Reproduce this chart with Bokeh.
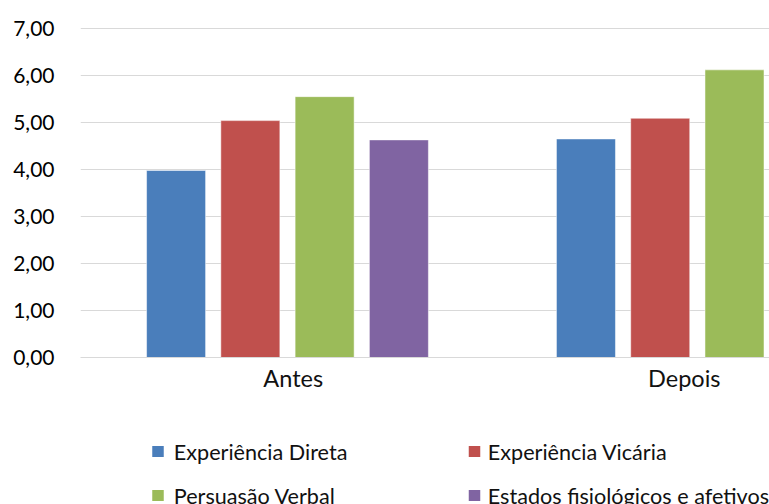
import math

from bokeh.core.properties import value
from bokeh.embed import file_html
from bokeh.layouts import column
from bokeh.models import ColumnDataSource, FixedTicker, Range1d
from bokeh.plotting import figure
from bokeh.resources import INLINE

# ---- data ---------------------------------------------------------------
categories = ["Antes", "Depois"]

experiencia_direta = [3.98, 4.65]
experiencia_vicaria = [5.04, 5.09]
persuasao_verbal = [5.55, 6.12]
estados_fisiologicos = [4.63, math.nan]

series_names = [
    "Experiência Direta",
    "Experiência Vicária",
    "Persuasão Verbal",
    "Estados fisiológicos e afetivos",
]
series_values = [
    experiencia_direta,
    experiencia_vicaria,
    persuasao_verbal,
    estados_fisiologicos,
]

y_ticks = [0, 1, 2, 3, 4, 5, 6, 7]
y_tick_labels = ["0,00", "1,00", "2,00", "3,00", "4,00", "5,00", "6,00", "7,00"]

# ---- styling ------------------------------------------------------------
series_colors = ["#4A7EBB", "#C0504D", "#9BBB59", "#8064A2"]
grid_color = "#D9D9D9"
text_color = "#111111"
font = "Lato"

W = 769
H_MAIN = 410
H_LEGEND = 94
LEFT = 80  # left border shared by both panels

bar_step = 0.1812   # distance between neighbouring bars of a cluster
bar_width = 0.144
label_shift = [0.014, -0.032]  # small nudge of the category captions

# ---- main chart ---------------------------------------------------------
p = figure(
    width=W,
    height=H_MAIN,
    x_range=Range1d(-0.505, 1.176),
    y_range=Range1d(0, 7.17),
    output_backend="svg",
    toolbar_location=None,
    min_border_left=LEFT,
    min_border_right=0,
    min_border_top=20,
    min_border_bottom=53,
)
p.outline_line_color = None
p.background_fill_color = "white"
p.border_fill_color = "white"

n_series = len(series_values)
for i, (vals, color) in enumerate(zip(series_values, series_colors)):
    offset = (i - (n_series - 1) / 2) * bar_step
    src = ColumnDataSource(
        dict(x=[k + offset for k in range(len(categories))], top=vals)
    )
    p.vbar(
        x="x",
        top="top",
        bottom=0,
        width=bar_width,
        source=src,
        fill_color=color,
        line_color="white",
        line_alpha=0.5,
        line_width=1,
    )

# x axis: category captions under each cluster
x_label_pos = [k + s for k, s in zip(range(len(categories)), label_shift)]
p.xaxis.ticker = FixedTicker(ticks=x_label_pos)
p.xaxis.major_label_overrides = {pos: name for pos, name in zip(x_label_pos, categories)}
p.xaxis.major_tick_line_color = None
p.xaxis.minor_tick_line_color = None
p.xaxis.axis_line_color = grid_color
p.xaxis.axis_line_width = 1.2
p.xaxis.major_label_standoff = 0
p.xaxis.major_label_text_font = font
p.xaxis.major_label_text_font_size = "23.5px"
p.xaxis.major_label_text_color = text_color

# y axis
p.yaxis.ticker = FixedTicker(ticks=y_ticks)
p.yaxis.major_label_overrides = {t: lab for t, lab in zip(y_ticks, y_tick_labels)}
p.yaxis.axis_line_color = None
p.yaxis.major_tick_line_color = None
p.yaxis.minor_tick_line_color = None
p.yaxis.major_label_standoff = 20
p.yaxis.major_label_text_font = font
p.yaxis.major_label_text_font_size = "21px"
p.yaxis.major_label_text_color = "#000000"

p.xgrid.grid_line_color = None
p.ygrid.grid_line_color = grid_color
p.ygrid.grid_line_width = 1.2

# ---- legend (two columns, two rows), in page pixel units ---------------
lg = figure(
    width=W,
    height=H_LEGEND,
    x_range=Range1d(LEFT, W),
    y_range=Range1d(H_LEGEND, 0),
    output_backend="svg",
    toolbar_location=None,
    x_axis_location=None,
    y_axis_location=None,
    min_border_left=LEFT,
    min_border_right=0,
    min_border_top=0,
    min_border_bottom=0,
)
lg.outline_line_color = None
lg.grid.visible = False
lg.background_fill_color = "white"
lg.border_fill_color = "white"

col_swatch_x = [157.5, 474.0]
col_text_x = [173.3, 487.3]
row_swatch_y = [41.0, 85.0]
row_baseline = [41.0, 85.5]

sw_x, sw_y, tx_x, tx_y = [], [], [], []
for i in range(n_series):
    c, r = i % 2, i // 2
    sw_x.append(col_swatch_x[c])
    sw_y.append(row_swatch_y[r])
    tx_x.append(col_text_x[c])
    tx_y.append(row_baseline[r])

lg.rect(
    x=sw_x, y=sw_y, width=11.5, height=11,
    fill_color=series_colors, line_color=None,
)
lg.text(
    x=tx_x, y=tx_y, text=series_names,
    text_font=value(font), text_font_size="21.6px",
    text_color=text_color, text_baseline="alphabetic", text_align="left",
)

layout = column(p, lg, spacing=0)

with open("out.html", "w") as f:
    f.write(file_html(layout, INLINE))
